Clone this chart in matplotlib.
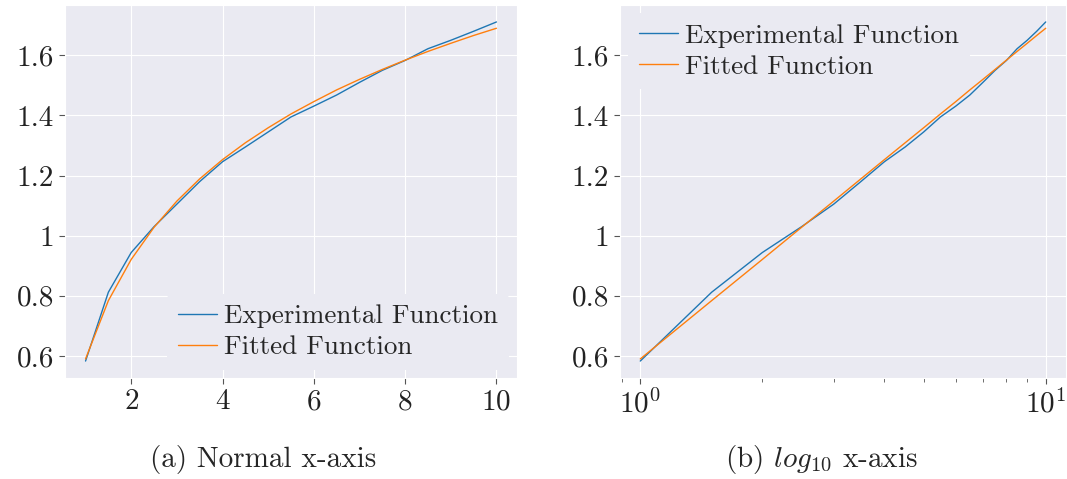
import numpy as np
import matplotlib
matplotlib.use("Agg")
import matplotlib.pyplot as plt
import matplotlib.ticker as ticker
import seaborn as sns

# measured response and the fitted curve, sampled every 0.5
x = [1, 1.5, 2, 2.5, 3, 3.5, 4, 4.5, 5, 5.5, 6, 6.5, 7, 7.5, 8, 8.5, 9, 9.5, 10]
y_exp = [0.583, 0.812, 0.944, 1.03, 1.105, 1.18, 1.246, 1.295, 1.345, 1.395,
         1.431, 1.468, 1.51, 1.55, 1.583, 1.622, 1.65, 1.68, 1.711]
y_fit = [0.59, 0.784, 0.921, 1.028, 1.115, 1.189, 1.253, 1.309, 1.359, 1.405,
         1.446, 1.485, 1.52, 1.553, 1.584, 1.613, 1.64, 1.666, 1.69]

sns.set_style("darkgrid", {"xtick.bottom": True, "ytick.left": True})
plt.rcParams["font.family"] = ["cmr10"]
plt.rcParams["mathtext.fontset"] = "cm"
plt.rcParams["axes.formatter.use_mathtext"] = True
plt.rcParams["font.size"] = 21
plt.rcParams["xtick.color"] = "#555555"
plt.rcParams["ytick.color"] = "#555555"
plt.rcParams["xtick.labelcolor"] = "#222222"
plt.rcParams["ytick.labelcolor"] = "#222222"
plt.rcParams["xtick.major.size"] = 4
plt.rcParams["ytick.major.size"] = 4
plt.rcParams["xtick.minor.size"] = 3

W, H = 1067, 479
fig = plt.figure(figsize=(W / 100, H / 100), dpi=100)
ax1 = fig.add_axes([65 / W, 1 - 378 / H, 452 / W, 373 / H])
ax2 = fig.add_axes([620 / W, 1 - 378 / H, 446 / W, 373 / H])

for ax in (ax1, ax2):
    ax.plot(x, y_exp, color="#1f77b4", lw=1.0, label="Experimental Function")
    ax.plot(x, y_fit, color="#ff7f0e", lw=1.0, label="Fitted Function")
    ax.yaxis.set_major_formatter(ticker.FuncFormatter(lambda v, p: f"{v:g}"))
    ax.tick_params(axis="both", labelsize=21, pad=4)

leg_kw = dict(fontsize=19.5, handlelength=1.45, handletextpad=0.25, borderaxespad=0.3,
              frameon=True, facecolor="#EAEAF2", edgecolor="none", framealpha=1.0,
              labelspacing=0.25)

ax1.set_xticks([2, 4, 6, 8, 10])
ax1.set_yticks([0.6, 0.8, 1.0, 1.2, 1.4, 1.6])
ax1.legend(loc="lower right", **leg_kw)

ax2.set_xscale("log")
ax2.set_yticks([0.6, 0.8, 1.0, 1.2, 1.4, 1.6])
ax2.legend(loc="upper left", **leg_kw)

fig.text(263 / W, 1 - 460 / H, "(a) Normal x-axis", ha="center", va="center", fontsize=21)
fig.text(821 / W, 1 - 460 / H, r"(b) $log_{10}$ x-axis", ha="center", va="center", fontsize=21)

fig.savefig("out.png", dpi=100, facecolor="white")
